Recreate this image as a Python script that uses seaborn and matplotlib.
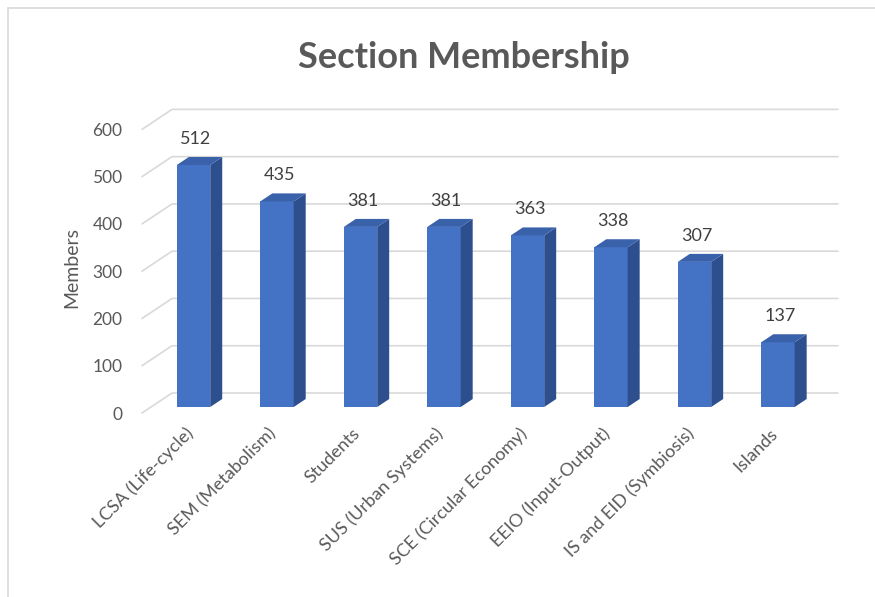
import matplotlib
matplotlib.use("Agg")
import matplotlib.pyplot as plt
import matplotlib.transforms as mtransforms
from matplotlib.patches import Polygon
import seaborn as sns
import pandas as pd

# data
sections = ["LCSA (Life-cycle)", "SEM (Metabolism)", "Students", "SUS (Urban Systems)",
            "SCE (Circular Economy)", "EEIO (Input-Output)", "IS and EID (Symbiosis)", "Islands"]
members = [512, 435, 381, 381, 363, 338, 307, 137]
y_ticks = [0, 100, 200, 300, 400, 500, 600]

sns.set_theme(style="white")
plt.rcParams["font.family"] = ["Lato", "DejaVu Sans"]

front_col = "#4472C4"
side_col = "#2D4F8E"
top_col = "#3A62AA"
grid_col = "#D9D9D9"
text_col = "#595959"

df = pd.DataFrame({"section": sections, "members": members})

fig = plt.figure(figsize=(8.75, 5.97), dpi=100)
ax = fig.add_axes([142 / 875, 190 / 597, 696 / 875, 283.6 / 597])

sns.barplot(data=df, x="section", y="members", color=front_col, width=0.4,
            saturation=1, ax=ax, zorder=3)

ax.set_xlim(-0.617, 7.719)
ax.set_ylim(0, 600)
fig.canvas.draw()

inv = ax.transData.inverted()


def shift(xd, yd, dx, dy):
    # move a data point by dx, dy pixels (dy up)
    px, py = ax.transData.transform((xd, yd))
    return inv.transform((px + dx, py + dy))


# floor/wall gridlines with the slanted left wall
x0, x1 = ax.get_xlim()
wall_x = x0 + (30 / 696) * (x1 - x0)
for v in y_ticks:
    a = shift(x0, v, 0, -6)
    b = shift(wall_x, v, 0, 14)
    c = shift(x1, v, 0, 14)
    ax.plot([a[0], b[0], c[0]], [a[1], b[1], c[1]], color=grid_col, lw=1.2,
            zorder=1, clip_on=False)

# bar depth: side and top faces
ddx, ddy = 12, 8
for p in ax.patches:
    bx, by, bw, bh = p.get_x(), p.get_y(), p.get_width(), p.get_height()
    p.set_edgecolor("none")
    side = [(bx + bw, by), (bx + bw, by + bh),
            tuple(shift(bx + bw, by + bh, ddx, ddy)), tuple(shift(bx + bw, by, ddx, ddy))]
    top = [(bx, by + bh), (bx + bw, by + bh),
           tuple(shift(bx + bw, by + bh, ddx, ddy)), tuple(shift(bx, by + bh, ddx, ddy))]
    ax.add_patch(Polygon(side, closed=True, facecolor=side_col, edgecolor="none",
                         zorder=3, clip_on=False))
    ax.add_patch(Polygon(top, closed=True, facecolor=top_col, edgecolor="none",
                         zorder=3, clip_on=False))
    ax.annotate(f"{int(bh)}", (bx + bw / 2 + 2 / 83.5, by + bh), xytext=(0, 26),
                textcoords="offset pixels", ha="center", va="center",
                fontsize=13, color="#404040", annotation_clip=False)

ax.set_yticks(y_ticks)
ax.set_yticklabels([str(v) for v in y_ticks], fontsize=12.5, color=text_col)
ax.tick_params(axis="y", length=0, pad=14)
down = mtransforms.ScaledTranslation(0, -6 / 100, fig.dpi_scale_trans)
for lab in ax.get_yticklabels():
    lab.set_transform(lab.get_transform() + down)

ax.set_xticks(range(len(sections)))
ax.set_xticklabels(sections, rotation=45, ha="right", rotation_mode="anchor",
                   fontsize=13, color=text_col)
ax.tick_params(axis="x", length=0, pad=13)
left = mtransforms.ScaledTranslation(-9 / 100, 0, fig.dpi_scale_trans)
for lab in ax.get_xticklabels():
    lab.set_transform(lab.get_transform() + left)

ax.set_xlabel("")
ax.set_ylabel("")
fig.text(72 / 875, 1 - 268 / 597, "Members", rotation=90, ha="center", va="center",
         fontsize=14, color=text_col)
for s in ax.spines.values():
    s.set_visible(False)
ax.grid(False)

fig.text(464 / 875, 1 - 57 / 597, "Section Membership", ha="center", va="center",
         fontsize=26, fontweight="bold", color=text_col)

# outer chart border (top and left visible)
fig.add_artist(plt.Line2D([8 / 875, 8 / 875], [0, 1 - 8 / 597], color="#D9D9D9",
                          lw=1.2, transform=fig.transFigure))
fig.add_artist(plt.Line2D([8 / 875, 1], [1 - 8 / 597, 1 - 8 / 597], color="#D9D9D9",
                          lw=1.2, transform=fig.transFigure))

fig.savefig("out.png", dpi=100)
